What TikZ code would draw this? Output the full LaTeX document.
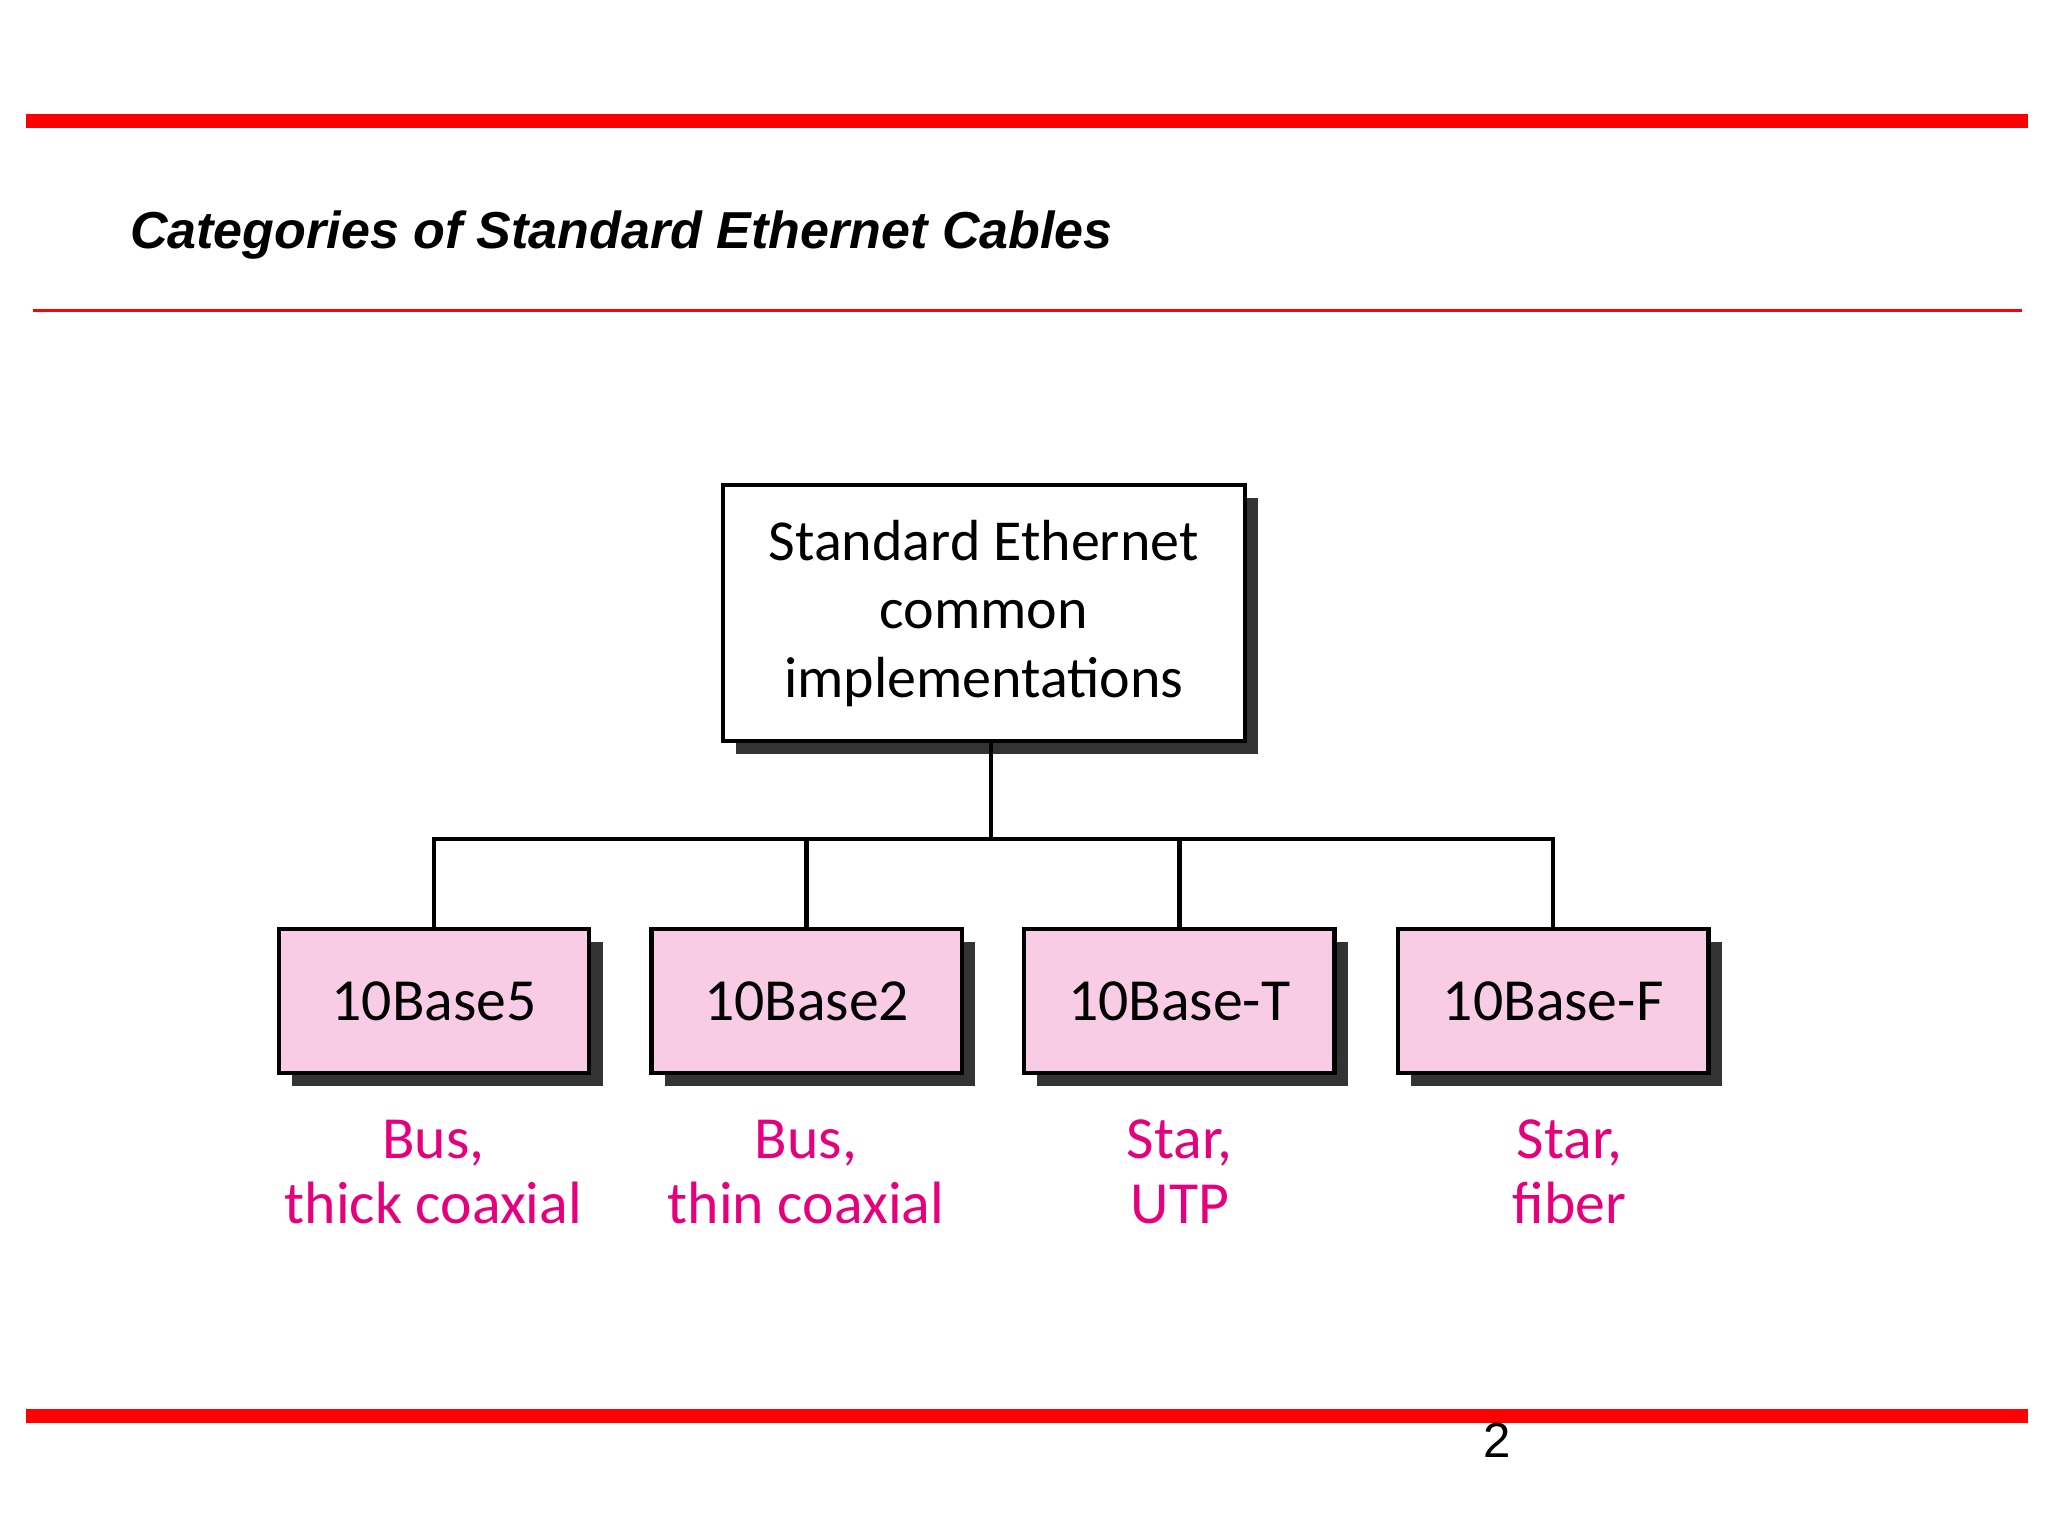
\documentclass[tikz,border=0pt]{standalone}
\usepackage{fontspec}
\setmainfont{Carlito}
\newfontfamily\arialf{Liberation Sans}
\definecolor{slidered}{RGB}{255,0,0}
\definecolor{boxpink}{RGB}{249,204,230}
\definecolor{labmag}{RGB}{230,0,126}
\begin{document}
\begin{tikzpicture}[x=0.013213cm,y=-0.013213cm,
  leaf/.style={draw=black,line width=1.2pt,fill=boxpink,minimum width=3.105cm,minimum height=1.44cm,font=\fontsize{17}{20}\selectfont},
  lab/.style={text=labmag,align=center,font=\fontsize{17}{18.5}\selectfont},
  conn/.style={draw=black,line width=1.3pt}]
\useasboundingbox (0,0) rectangle (1550,1162.5);
\fill[white] (0,0) rectangle (1550,1162.5);
\fill[slidered] (20,86) rectangle (1535,97);
\fill[slidered] (25,233.5) rectangle (1530,236.5);
\fill[slidered] (20,1066) rectangle (1535,1077);
\node[anchor=west,inner sep=0pt,font=\arialf\bfseries\itshape\fontsize{14.8}{16}\selectfont] (title) at (98,178) {Categories of Standard Ethernet Cables};
\node[font=\arialf\fontsize{14}{16}\selectfont] (pg) at (1133,1090) {2};
% top box
\fill[black!80] (557,377) rectangle (952,571);
\node[draw=black,line width=1.2pt,fill=white,minimum width=5.22cm,minimum height=2.563cm,align=center,font=\fontsize{16.5}{19.5}\selectfont] (top) at (744.5,464) {Standard Ethernet\\common\\implementations};
% leaves
\foreach \n/\cx/\t in {a/328.5/10Base5,b/610.5/10Base2,c/892.5/10Base-T,d/1175.5/10Base-F}{
  \fill[black!80] (\cx-107.5,713) rectangle (\cx+127.5,822);
  \node[leaf] (\n) at (\cx,757.5) {\t};
}
\coordinate (j) at (750,635);
\draw[conn] (top.south -| j) -- (j);
\draw[conn] (a.north) |- (j) -| (d.north);
\draw[conn] (b.north) -- (b.north |- j);
\draw[conn] (c.north) -- (c.north |- j);
\node[lab] (la) at (328,887) {Bus,\\thick coaxial};
\node[lab] (lb) at (610,887) {Bus,\\thin coaxial};
\node[lab] (lc) at (893,887) {Star,\\UTP};
\node[lab] (ld) at (1188,887) {Star,\\fiber};
\end{tikzpicture}
\end{document}
